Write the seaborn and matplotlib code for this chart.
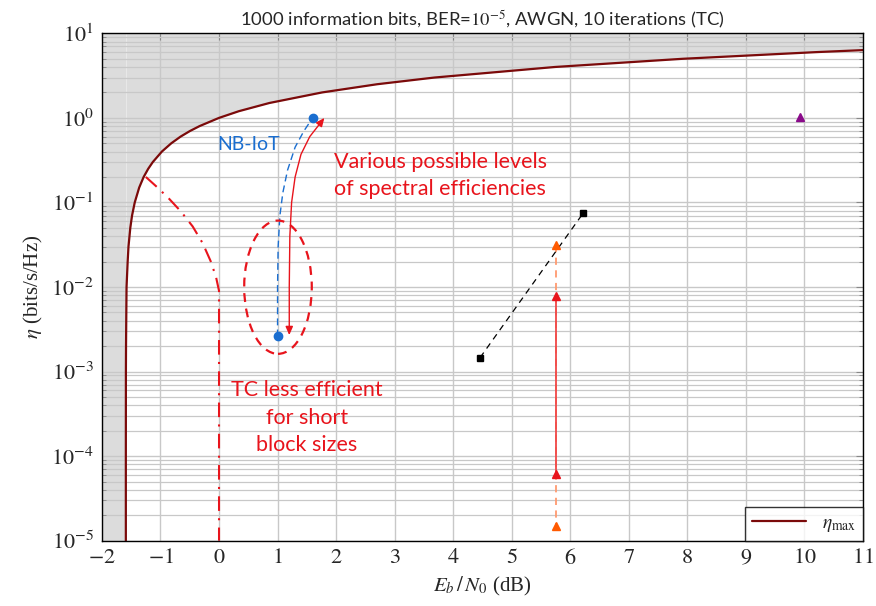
import numpy as np
import pandas as pd
import matplotlib
matplotlib.use("Agg")
import matplotlib.pyplot as plt
import seaborn as sns
from matplotlib.patches import Ellipse, FancyArrowPatch
from matplotlib.path import Path
from matplotlib.ticker import LogLocator, FixedLocator, NullFormatter

# ---------------- data ----------------
# Shannon bound eta_max vs Eb/N0 (dB)
shannon_ebn0 = [-1.592, -1.592, -1.591, -1.589, -1.584, -1.58, -1.561, -1.547,
                -1.516, -1.486, -1.440, -1.364, -1.288, -1.210, -1.132, -0.976,
                -0.817, -0.658, -0.496, -0.332, 0.0, 0.339, 0.860, 1.761,
                2.701, 3.680, 5.740, 7.924, 10.212, 11.390]
shannon_eta = [1e-5, 1e-4, 1e-3, 0.002, 0.005, 0.01, 0.02, 0.03,
               0.05, 0.07, 0.1, 0.15, 0.2, 0.25, 0.3, 0.4,
               0.5, 0.6, 0.7, 0.8, 1.0, 1.2, 1.5, 2.0,
               2.5, 3.0, 4.0, 5.0, 6.0, 6.5]

# TC short-block curve (red dash-dot)
tc_ebn0 = [-1.25, -1.05, -0.85, -0.65, -0.45, -0.28, -0.14, -0.05, 0.0, 0.0]
tc_eta = [0.2, 0.15, 0.11, 0.078, 0.052, 0.033, 0.02, 0.013, 0.009, 1e-5]

# NB-IoT points and dashed path
nbiot_ebn0 = [1.0, 1.6]
nbiot_eta = [0.0026, 1.0]
nbiot_path_ebn0 = [1.0, 1.0, 1.01, 1.04, 1.09, 1.17, 1.3, 1.45, 1.6]
nbiot_path_eta = [0.0026, 0.01, 0.03, 0.07, 0.13, 0.24, 0.45, 0.7, 1.0]

# double arrow (spectral efficiencies)
arrow_ebn0 = [1.2, 1.2, 1.21, 1.24, 1.3, 1.4, 1.55, 1.8]
arrow_eta = [0.0027, 0.01, 0.04, 0.1, 0.2, 0.37, 0.6, 1.0]

# ellipse bounds
ell_x = [0.43, 1.585]
ell_y = [0.00162, 0.061]

# black squares
sq_ebn0 = [4.46, 6.22]
sq_eta = [0.00146, 0.0745]

# triangles
tri_orange_ebn0 = [5.755, 5.755]
tri_orange_eta = [0.0315, 1.5e-5]
tri_red_ebn0 = [5.755, 5.755]
tri_red_eta = [0.00785, 6.1e-5]
tri_purple_ebn0 = [9.93]
tri_purple_eta = [1.03]

x_ticks = list(range(-2, 12))
y_ticks = [1e-5, 1e-4, 1e-3, 1e-2, 1e-1, 1e0, 1e1]
y_ticklabels = [r"$10^{-5}$", r"$10^{-4}$", r"$10^{-3}$", r"$10^{-2}$",
                r"$10^{-1}$", r"$10^{0}$", r"$10^{1}$"]

XMIN, XMAX = -2, 11
YMIN, YMAX = 1e-5, 1e1

# ---------------- styling ----------------
sns.set_theme(style="white")
plt.rcParams["font.family"] = ["Liberation Serif", "DejaVu Serif"]
plt.rcParams["mathtext.fontset"] = "stix"

DARKRED = "#7b0a0a"
RED = "#e8141c"
BLUE = "#1a6ed0"
ORANGE = "#ff5a00"
PURPLE = "#8a0a8a"
GRID = "#c8c8c8"
SANS = ["Lato", "DejaVu Sans"]

fig = plt.figure(figsize=(8.76, 6.06), dpi=100)
ax = fig.add_axes([0.1164, 0.1078, 0.8686, 0.8372])
ax.set_xscale("linear")
ax.set_yscale("log")
ax.set_xlim(XMIN, XMAX)
ax.set_ylim(YMIN, YMAX)

# shaded non-achievable region
ax.fill_between(shannon_ebn0, shannon_eta, YMAX, color="#dcdcdc", lw=0, zorder=0.5)
ax.axvspan(XMIN, shannon_ebn0[0], color="#dcdcdc", lw=0, zorder=0.5)

# grid
ax.xaxis.set_major_locator(FixedLocator(x_ticks))
ax.yaxis.set_major_locator(FixedLocator(y_ticks))
ax.yaxis.set_minor_locator(LogLocator(base=10, subs=np.arange(2, 10), numticks=100))
ax.yaxis.set_minor_formatter(NullFormatter())
ax.grid(True, which="major", color=GRID, lw=1.0, zorder=0.8)
ax.grid(True, which="minor", axis="y", color=GRID, lw=0.9, zorder=0.8)
ax.set_axisbelow(True)

# Shannon curve
df_sh = pd.DataFrame({"x": shannon_ebn0, "y": shannon_eta})
sns.lineplot(data=df_sh, x="x", y="y", ax=ax, color=DARKRED, lw=1.6,
             sort=False, estimator=None, label=r"$\eta_{\mathrm{max}}$", zorder=3)

# TC dash-dot curve
ax.plot(tc_ebn0, tc_eta, color=RED, lw=1.5, ls=(0, (7, 3.5, 1, 3.5)), zorder=3)

# NB-IoT
ax.plot(nbiot_path_ebn0, nbiot_path_eta, color=BLUE, lw=1.0, ls=(0, (5, 3)), zorder=3)
ax.plot(nbiot_ebn0, nbiot_eta, ls="none", marker="o", ms=6, color=BLUE, zorder=4)

# double arrow
verts = list(zip(arrow_ebn0, arrow_eta))
path = Path(verts)
arr = FancyArrowPatch(path=path, arrowstyle="<|-|>,head_length=5,head_width=2.2",
                      color=RED, lw=1.0, transform=ax.transData, zorder=4,
                      shrinkA=0, shrinkB=0)
ax.add_patch(arr)

# ellipse (axes-fraction coordinates computed from data bounds)
lx0, lx1 = np.log10(YMIN), np.log10(YMAX)
fx = [(v - XMIN) / (XMAX - XMIN) for v in ell_x]
fy = [(np.log10(v) - lx0) / (lx1 - lx0) for v in ell_y]
ell = Ellipse(((fx[0] + fx[1]) / 2, (fy[0] + fy[1]) / 2), fx[1] - fx[0], fy[1] - fy[0],
              transform=ax.transAxes, fill=False, ec=RED, lw=1.6, ls=(0, (4, 3)), zorder=3)
ax.add_patch(ell)

# black squares
ax.plot(sq_ebn0, sq_eta, color="black", lw=0.9, ls=(0, (5, 4)), marker="s", ms=5, zorder=4)

# triangles
ax.plot(tri_orange_ebn0, tri_orange_eta, color="#ff9a70", lw=1.3, ls=(0, (4, 3)), zorder=3)
ax.plot(tri_red_ebn0, tri_red_eta, color="#f04848", lw=1.3, zorder=3.5)
ax.plot(tri_orange_ebn0, tri_orange_eta, ls="none", marker="^", ms=6, color=ORANGE, zorder=4)
ax.plot(tri_red_ebn0, tri_red_eta, ls="none", marker="^", ms=6, color=RED, zorder=4)
ax.plot(tri_purple_ebn0, tri_purple_eta, ls="none", marker="^", ms=6, color=PURPLE, zorder=4)

# annotations
ax.text(0.51, 0.48, "NB-IoT", color=BLUE, fontsize=14, family=SANS, ha="center", va="center")
ax.text(1.97, 0.21, "Various possible levels\nof spectral efficiencies", color=RED,
        fontsize=15.5, family=SANS, ha="left", va="center", linespacing=1.45)
ax.text(1.5, 2.85e-4, "TC less efficient\nfor short\nblock sizes", color=RED,
        fontsize=15.5, family=SANS, ha="center", va="center", linespacing=1.45)

# axes, ticks, labels
ax.set_yticklabels(y_ticklabels)
ax.set_xticklabels([r"$%d$" % v if v >= 0 else r"$-%d$" % (-v) for v in x_ticks])
ax.tick_params(axis="both", which="major", direction="in", length=5, width=0.8,
               color="#888888", labelsize=16, top=True, right=True, pad=6)
ax.tick_params(axis="y", which="minor", direction="in", length=3, width=0.6,
               color="#888888", right=True, left=True)
for sp in ax.spines.values():
    sp.set_color("black")
    sp.set_linewidth(1.0)
    sp.set_zorder(5)

ax.set_xlabel(r"$E_b\,/\,N_0$ (dB)", fontsize=15, labelpad=4)
ax.set_ylabel(r"$\eta$ (bits/s/Hz)", fontsize=15, labelpad=4)
ax.set_title(r"1000 information bits, BER=$10^{-5}$, AWGN, 10 iterations (TC)",
             fontsize=13.3, family=SANS, pad=5)

leg = ax.legend(loc="lower right", frameon=True, fancybox=False, fontsize=14,
                handlelength=2.8, borderpad=0.35, borderaxespad=0.0)
leg.get_frame().set_edgecolor("black")
leg.get_frame().set_linewidth(1.0)
leg.set_zorder(6)

fig.savefig("out.png", dpi=100)
